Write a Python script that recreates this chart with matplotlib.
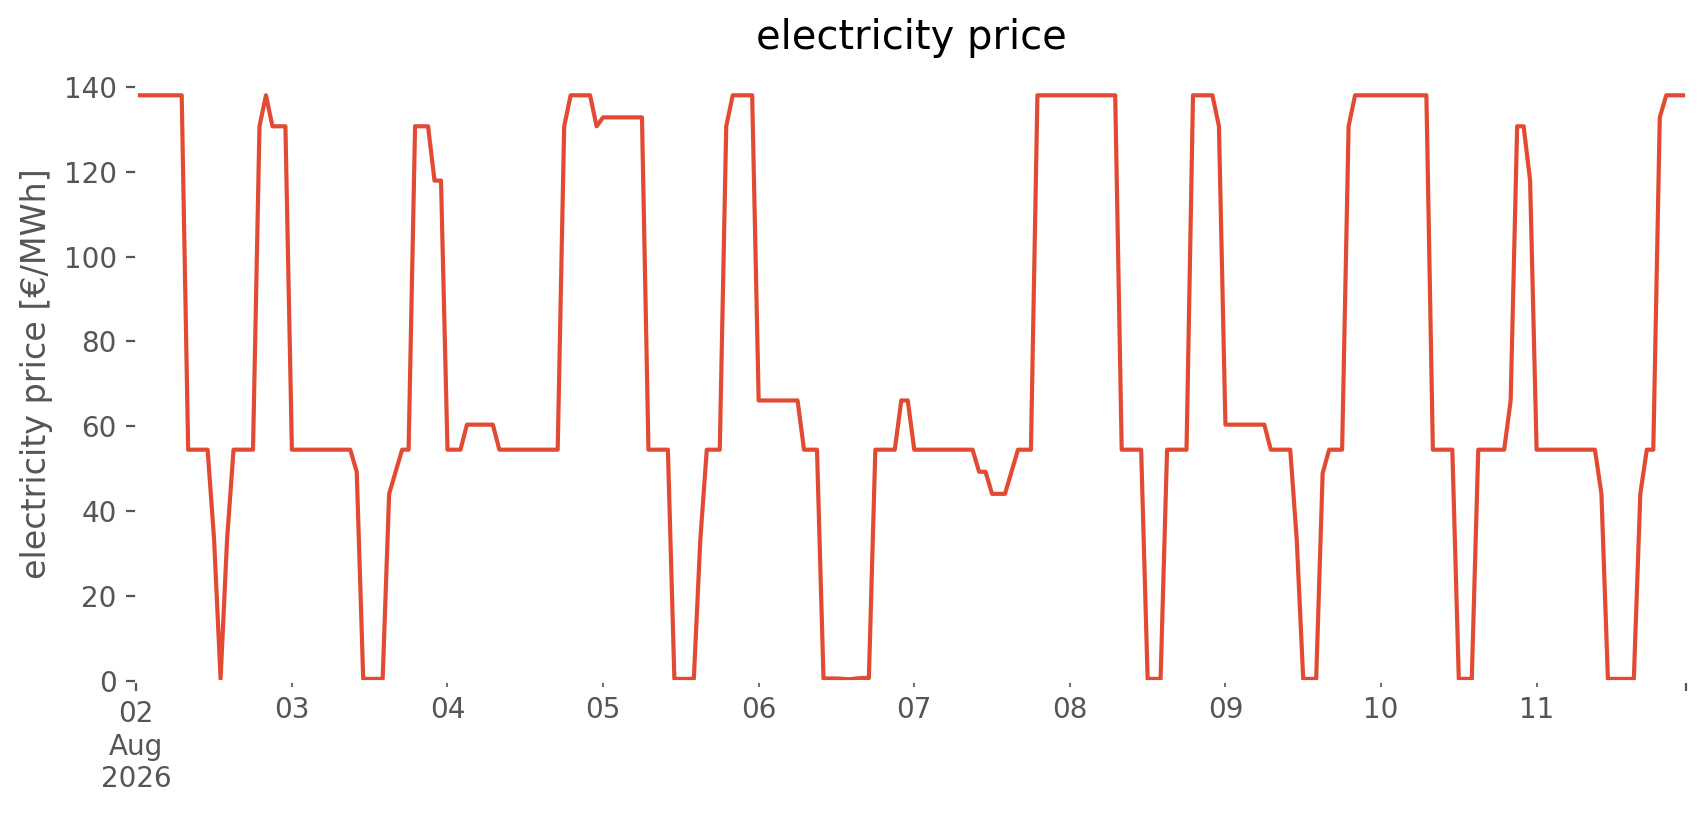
import pandas as pd
import matplotlib.pyplot as plt
import matplotlib.dates as mdates

# hourly prices, one list per day (02.08.2026 ... 11.08.2026)
day_02 = [138, 138, 138, 138, 138, 138, 138, 138, 54.5, 54.5, 54.5, 54.5,
          33.3, 0.5, 33.3, 54.5, 54.5, 54.5, 54.5, 130.7, 138, 130.7, 130.7, 130.7]
day_03 = [54.5, 54.5, 54.5, 54.5, 54.5, 54.5, 54.5, 54.5, 54.5, 54.5, 49.3, 0.5,
          0.5, 0.5, 0.5, 44.1, 49.3, 54.5, 54.5, 130.7, 130.7, 130.7, 117.9, 117.9]
day_04 = [54.5, 54.5, 54.5, 60.4, 60.4, 60.4, 60.4, 60.4, 54.5, 54.5, 54.5, 54.5,
          54.5, 54.5, 54.5, 54.5, 54.5, 54.5, 130.7, 138, 138, 138, 138, 130.7]
day_05 = [132.8, 132.8, 132.8, 132.8, 132.8, 132.8, 132.8, 54.5, 54.5, 54.5, 54.5, 0.5,
          0.5, 0.5, 0.5, 33.3, 54.5, 54.5, 54.5, 130.7, 138, 138, 138, 138]
day_06 = [66.1, 66.1, 66.1, 66.1, 66.1, 66.1, 66.1, 54.5, 54.5, 54.5, 0.6, 0.6,
          0.6, 0.5, 0.4, 0.6, 0.7, 0.7, 54.5, 54.5, 54.5, 54.5, 66.1, 66.1]
day_07 = [54.5, 54.5, 54.5, 54.5, 54.5, 54.5, 54.5, 54.5, 54.5, 54.5, 49.3, 49.3,
          44.1, 44.1, 44.1, 49.3, 54.5, 54.5, 54.5, 138, 138, 138, 138, 138]
day_08 = [138, 138, 138, 138, 138, 138, 138, 138, 54.5, 54.5, 54.5, 54.5,
          0.5, 0.5, 0.5, 54.5, 54.5, 54.5, 54.5, 138, 138, 138, 138, 130.7]
day_09 = [60.4, 60.4, 60.4, 60.4, 60.4, 60.4, 60.4, 54.5, 54.5, 54.5, 54.5, 33.3,
          0.5, 0.5, 0.5, 49.0, 54.5, 54.5, 54.5, 130.7, 138, 138, 138, 138]
day_10 = [138, 138, 138, 138, 138, 138, 138, 138, 54.5, 54.5, 54.5, 54.5,
          0.5, 0.5, 0.5, 54.5, 54.5, 54.5, 54.5, 54.5, 66.1, 130.7, 130.7, 117.9]
day_11 = [54.5, 54.5, 54.5, 54.5, 54.5, 54.5, 54.5, 54.5, 54.5, 54.5, 44.1, 0.5,
          0.5, 0.5, 0.5, 0.5, 44.1, 54.5, 54.5, 132.8, 138, 138, 138, 138]

days = [day_02, day_03, day_04, day_05, day_06, day_07, day_08, day_09, day_10, day_11]
price = [v for d in days for v in d]
time = pd.date_range("2026-08-02 00:00", periods=len(price), freq="h")

day_labels = ["03", "04", "05", "06", "07", "08", "09", "10", "11"]
y_ticks = [0, 20, 40, 60, 80, 100, 120, 140]

plt.style.use("ggplot")
plt.rcParams["axes.facecolor"] = "white"
plt.rcParams["figure.facecolor"] = "white"

fig = plt.figure(figsize=(8.53, 4.075), dpi=200)
ax = fig.add_axes([0.0799, 0.1644, 0.9082, 0.7546])

ax.plot(time, price, color="#E24A33", lw=1.5)
ax.grid(False)

ax.set_xlim(time[0], time[-1])
ax.set_ylim(0, 144.9)
ax.set_yticks(y_ticks)

# major ticks at start/end, days in between as labelled minor ticks
ax.set_xticks([time[0], time[-1]], labels=["02\nAug\n2026", ""])
minor_days = pd.date_range("2026-08-03", periods=len(day_labels), freq="D")
ax.set_xticks(minor_days, labels=day_labels, minor=True)
ax.tick_params(axis="x", which="minor", labelsize=10, labelcolor="#555555")

ax.set_title("electricity price")
ax.set_ylabel("electricity price [€/MWh]")

fig.savefig("out.png", dpi=200)
